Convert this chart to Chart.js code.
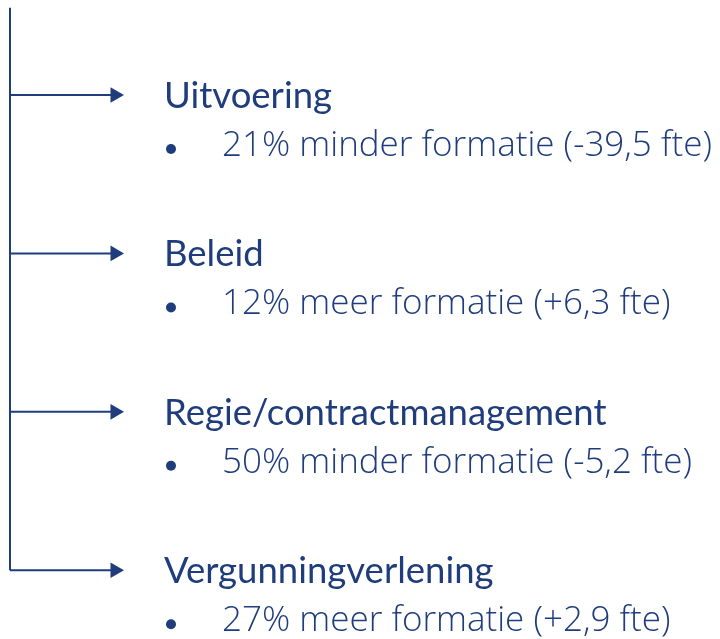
<!DOCTYPE html>
<html>
<head>
<meta charset="utf-8">
<script src="https://cdn.jsdelivr.net/npm/chart.js@4.4.1/dist/chart.umd.min.js"></script>
<style>
  html, body { margin: 0; padding: 0; background: #fff; }
  #wrap { width: 720px; height: 639px; }
</style>
</head>
<body>
<div id="wrap"><canvas id="tree"></canvas></div>
<script>
// departments, change in formation (percent) and in fte
const categories = ["Uitvoering", "Beleid", "Regie/contractmanagement", "Vergunningverlening"];
const percentChange = [-21, 12, -50, 27];
const fteChange = [-39.5, 6.3, -5.2, 2.9];

const navy = "#1f3d7c";

function bulletText(i) {
  const pct = Math.abs(percentChange[i]) + "% " + (percentChange[i] < 0 ? "minder" : "meer") + " formatie";
  const fte = (fteChange[i] < 0 ? "-" : "+") + Math.abs(fteChange[i]).toFixed(1).replace(".", ",");
  return pct + " (" + fte + " fte)";
}

// trunk + one arrow per department
const datasets = [
  {
    data: [{ x: 10, y: -0.55 }, { x: 10, y: categories.length - 1 }],
    borderColor: navy,
    borderWidth: 2,
    pointRadius: 0,
  },
  ...categories.map((c, i) => ({
    data: [{ x: 10, y: i }, { x: 115, y: i }],
    borderColor: navy,
    backgroundColor: navy,
    borderWidth: 2,
    pointStyle: "triangle",
    rotation: 90,
    pointRadius: [0, 9],
    pointBorderWidth: 0,
  })),
];

const labelsPlugin = {
  id: "labels",
  afterDatasetsDraw(chart) {
    const { ctx, scales } = chart;
    ctx.save();
    ctx.fillStyle = navy;
    ctx.textBaseline = "alphabetic";
    categories.forEach((c, i) => {
      const y = scales.y.getPixelForValue(i);
      ctx.font = "400 36.5px Lato";
      ctx.fillText(c, 164, y + 13);
      ctx.beginPath();
      ctx.arc(171, y + 54, 5, 0, Math.PI * 2);
      ctx.fill();
      ctx.font = "300 35px 'Open Sans'";
      ctx.fillText(bulletText(i), 222, y + 61);
    });
    ctx.restore();
  },
};

new Chart(document.getElementById("tree"), {
  type: "line",
  data: { datasets },
  options: {
    responsive: true,
    maintainAspectRatio: false,
    animation: false,
    layout: { padding: 0, autoPadding: false },
    plugins: { legend: { display: false }, tooltip: { enabled: false } },
    scales: {
      x: { type: "linear", min: 0, max: 720, display: false },
      y: { type: "linear", reverse: true, min: -0.5997, max: 3.434, display: false },
    },
  },
  plugins: [labelsPlugin],
});
</script>
</body>
</html>
